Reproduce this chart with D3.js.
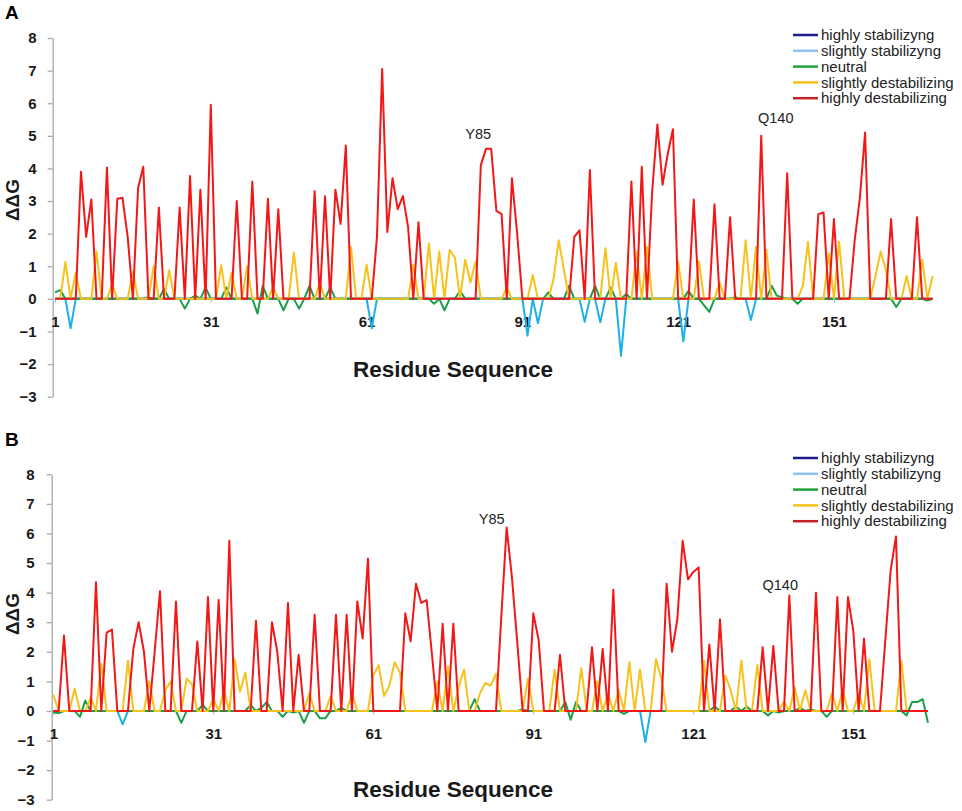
<!DOCTYPE html>
<html>
<head>
<meta charset="utf-8">
<script src="https://cdn.jsdelivr.net/npm/d3@7"></script>
<style>
body { margin: 0; background: #fff; }
text { font-family: Arial, "Liberation Sans", sans-serif; }
</style>
</head>
<body>
<div id="chart"></div>
<script>
var seriesNames = ["highly stabilizyng", "slightly stabilizyng", "neutral", "slightly destabilizing", "highly destabilizing"]
var lineColors = ["#1c1c8a", "#1cb0e6", "#1a9f48", "#f6c31c", "#f21818"]
var legendColors = ["#1c1c8a", "#8ec3f0", "#22a23a", "#f4c21c", "#c42229"]
var xTicks = [1, 31, 61, 91, 121, 151]
var yTicks = [-3, -2, -1, 0, 1, 2, 3, 4, 5, 6, 7, 8]

// panel A: 170 residues, [residue, ddG] for the non-zero points of each series
var residuesA = 170
var highStabA = []
var slightStabA = [[4,-0.9],[62,-0.9],[92,-1.13],[94,-0.75],[103,-0.7],[106,-0.72],[110,-1.75],[122,-1.3],[135,-0.65]]
var neutralA = [[1,0.2],[2,0.27],[19,0.05],[22,0.3],[26,-0.3],[28,0.1],[30,0.35],[34,0.35],[40,-0.45],[41,0.4],[45,-0.35],[48,-0.3],[50,0.4],[54,0.35],
  [74,-0.15],[76,-0.35],[79,0.25],[96,0.2],[100,0.4],[105,0.4],[108,0.35],[111,0.15],[123,0.25],[126,-0.2],[127,-0.4],[132,0.05],[139,0.4],[140,0.1],[141,0.05],
  [144,-0.15],[163,-0.25],[169,-0.05]]
var slightDestabA = [[3,1.13],[5,0.8],[9,1.45],[12,0.45],[16,0.85],[20,1.0],[23,0.88],[33,1.03],[35,0.8],[38,1.0],[43,0.35],[47,1.42],[52,0.5],[58,1.6],
  [61,1.05],[70,1.05],[73,1.7],[75,1.45],[77,1.5],[78,1.27],[80,1.2],[81,0.5],[82,1.15],[88,0.35],[93,0.73],[97,0.6],[98,1.8],[99,0.9],[107,1.55],[109,1.1],
  [113,1.45],[115,1.6],[121,1.15],[125,1.15],[129,0.5],[134,1.8],[136,1.6],[138,1.5],[145,0.4],[146,1.75],[150,1.4],[152,1.75],[159,0.7],[160,1.45],[161,0.9],
  [165,0.7],[168,1.2],[170,0.7]]
var highDestabA = [[6,3.9],[7,1.9],[8,3.05],[11,4.03],[13,3.07],[14,3.1],[15,1.9],[17,3.4],[18,4.05],[21,2.8],[25,2.8],[27,3.77],[29,3.35],[31,5.95],[36,3.0],
  [39,3.6],[42,3.07],[44,2.75],[51,3.3],[53,3.15],[55,3.35],[56,2.3],[57,4.7],[63,1.9],[64,7.05],[65,2.05],[66,3.7],[67,2.75],[68,3.15],[69,2.2],[71,2.35],
  [83,4.1],[84,4.6],[85,4.6],[86,2.7],[87,2.6],[89,3.7],[90,2.0],[101,1.9],[102,2.1],[104,3.95],[112,3.6],[114,4.05],[116,3.3],[117,5.35],[118,3.5],[119,4.45],
  [120,5.2],[124,3.05],[128,2.9],[131,2.5],[137,5.0],[142,3.85],[148,2.6],[149,2.65],[151,2.45],[155,1.8],[156,3.1],[157,5.1],[162,2.45],[167,2.5]]

// panel B: 165 residues
var residuesB = 165
var highStabB = []
var slightStabB = [[14,-0.45],[112,-1.05]]
var neutralB = [[1,-0.05],[2,-0.07],[6,-0.2],[7,0.35],[25,-0.4],[29,0.2],[38,0.2],[40,0.1],[41,0.3],[44,-0.2],[46,-0.05],[48,-0.4],[51,-0.25],[52,-0.25],
  [55,0.1],[80,0.4],[89,0.05],[97,0.3],[98,-0.3],[99,0.3],[108,-0.1],[125,0.15],[129,0.15],[131,0.15],[135,-0.15],[137,-0.05],[141,0.1],[143,0.05],[146,-0.2],
  [161,-0.15],[162,0.3],[163,0.3],[164,0.4],[165,-0.4]]
var slightDestabB = [[1,0.55],[5,0.75],[8,0.45],[10,1.6],[15,1.7],[19,1.0],[22,0.7],[23,1.0],[26,1.1],[27,0.9],[31,0.4],[33,0.7],[35,1.75],[36,0.65],[37,1.3],
  [49,0.6],[53,0.5],[57,0.6],[61,1.2],[62,1.55],[63,0.5],[64,0.85],[65,1.65],[66,1.3],[73,1.0],[75,1.5],[77,0.8],[78,1.4],[81,0.6],[82,0.95],[83,0.85],[84,1.25],
  [90,1.1],[95,1.4],[100,1.45],[103,1.0],[105,0.6],[107,0.7],[109,1.65],[111,1.4],[114,1.75],[115,1.1],[123,1.7],[127,1.2],[128,0.7],[130,1.7],[133,1.55],
  [138,0.3],[140,0.8],[142,0.7],[147,0.6],[149,0.7],[152,0.6],[154,1.75],[160,1.7]]
var highDestabB = [[3,2.55],[9,4.35],[11,2.65],[12,2.75],[16,2.1],[17,3.0],[18,2.0],[20,2.0],[21,4.05],[24,3.7],[28,2.35],[30,3.85],[32,3.75],[34,5.75],
  [39,3.05],[42,3.0],[43,2.0],[45,3.65],[47,1.9],[50,3.25],[54,3.25],[56,3.25],[58,3.7],[59,2.45],[60,5.15],[67,3.3],[68,2.35],[69,4.3],[70,3.65],[71,3.75],
  [72,1.9],[74,2.95],[76,2.95],[85,3.2],[86,6.2],[87,4.5],[88,2.3],[91,3.3],[92,2.4],[96,1.9],[102,2.15],[104,2.1],[106,4.1],[116,4.3],[117,2.0],[118,3.1],
  [119,5.75],[120,4.45],[121,4.7],[122,4.85],[124,2.25],[126,3.1],[134,2.15],[136,2.2],[139,3.9],[144,4.0],[148,3.85],[150,3.85],[151,2.7],[153,2.45],
  [157,2.4],[158,4.75],[159,5.9]]

var svg = d3.select("#chart")
  .append("svg")
    .attr("width", 962)
    .attr("height", 811)

function drawPanel(p) {
  var x = d3.scaleLinear().domain([1, p.n]).range([p.x0, p.x1])
  var y = d3.scaleLinear().domain([-3, 8]).range([p.yBottom, p.yTop])
  var g = svg.append("g")

  // panel letter
  g.append("text")
    .attr("x", 5)
    .attr("y", p.letterY)
    .style("font-size", "19px")
    .style("font-weight", "bold")
    .text(p.letter)

  // Y axis
  var ya = g.append("g")
    .attr("transform", "translate(" + p.axisX + ",0)")
    .call(d3.axisLeft(y).tickValues(yTicks).tickSize(5).tickSizeOuter(0).tickPadding(p.padY))
  ya.select(".domain").attr("stroke", "#a8a8a8").attr("stroke-width", 1.3)
  ya.selectAll(".tick line").attr("stroke", "#a8a8a8").attr("stroke-width", 1.3)
  ya.selectAll(".tick text")
    .attr("fill", "#1a1a1a")
    .style("font-size", "15px")
    .style("font-weight", "bold")

  // X axis (labels only, the zero line is covered by the series)
  var xa = g.append("g")
    .attr("transform", "translate(0," + y(0) + ")")
    .call(d3.axisBottom(x).tickValues(xTicks).tickSize(4).tickPadding(13).tickFormat(d3.format("d")))
  xa.select(".domain").remove()
  xa.selectAll(".tick line").attr("stroke", "#b8b8b8")
  xa.selectAll(".tick text")
    .attr("fill", "#1a1a1a")
    .style("font-size", "15px")
    .style("font-weight", "bold")

  // the five series, every residue not listed sits on zero
  var line = d3.line()
    .x(function (d) { return x(d[0]) })
    .y(function (d) { return y(d[1]) })
  p.series.forEach(function (pts, i) {
    var byRes = new Map(pts)
    var full = d3.range(1, p.n + 1).map(function (r) { return [r, byRes.has(r) ? byRes.get(r) : 0] })
    g.append("path")
      .datum(full)
      .attr("d", line)
      .attr("fill", "none")
      .attr("stroke", lineColors[i])
      .attr("stroke-width", 2)
      .attr("stroke-linejoin", "round")
  })

  // residue labels
  p.notes.forEach(function (n) {
    g.append("text")
      .attr("x", x(n[1]))
      .attr("y", y(n[2]))
      .attr("text-anchor", "middle")
      .attr("fill", "#222")
      .style("font-size", "14.5px")
      .text(n[0])
  })

  // axis titles
  g.append("text")
    .attr("transform", "translate(" + p.yTitleX + "," + p.yTitleY + ") rotate(-90)")
    .attr("text-anchor", "middle")
    .attr("fill", "#1a1a1a")
    .style("font-size", "19px")
    .style("font-weight", "bold")
    .text("ΔΔG")
  g.append("text")
    .attr("x", 453)
    .attr("y", p.xTitleY)
    .attr("text-anchor", "middle")
    .attr("fill", "#1a1a1a")
    .style("font-size", "22.5px")
    .style("font-weight", "bold")
    .text("Residue Sequence")

  // legend
  seriesNames.forEach(function (name, i) {
    var ly = p.legY + i * 15.8
    g.append("line")
      .attr("x1", 793).attr("x2", 818)
      .attr("y1", ly).attr("y2", ly)
      .attr("stroke", legendColors[i])
      .attr("stroke-width", 2.5)
    g.append("text")
      .attr("x", 821)
      .attr("y", ly)
      .attr("dy", "0.35em")
      .attr("fill", "#222")
      .style("font-size", "15px")
      .text(name)
  })
}

drawPanel({
  letter: "A", letterY: 18.5, n: residuesA,
  x0: 55, x1: 932.6, yTop: 38, yBottom: 396.7, axisX: 52.7, padY: 11,
  yTitleX: 19, yTitleY: 200, xTitleY: 377, legY: 35,
  series: [highStabA, slightStabA, neutralA, slightDestabA, highDestabA],
  notes: [["Y85", 82.5, 4.89], ["Q140", 139.8, 5.4]]
})
drawPanel({
  letter: "B", letterY: 446, n: residuesB,
  x0: 53.3, x1: 928, yTop: 474.3, yBottom: 799.7, axisX: 51.7, padY: 12,
  yTitleX: 18.5, yTitleY: 614, xTitleY: 797, legY: 458,
  series: [highStabB, slightStabB, neutralB, slightDestabB, highDestabB],
  notes: [["Y85", 83.2, 6.33], ["Q140", 137.3, 4.08]]
})
</script>
</body>
</html>
